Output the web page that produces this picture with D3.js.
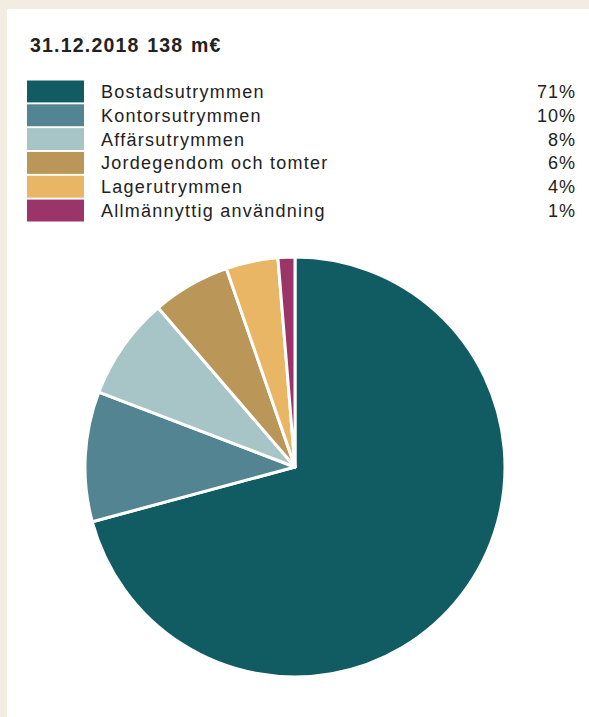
<!DOCTYPE html>
<html lang="sv">
<head>
  <meta charset="UTF-8">
  <title>Fastighetsinnehav</title>
  <script src="https://d3js.org/d3.v7.min.js"></script>
  <style>
    body { margin: 0; background: #f3ece0; }
    svg { display: block; }
    text { font-family: "Liberation Sans", Arial, sans-serif; fill: #222; }
  </style>
</head>
<body>
<script>
  const title = "31.12.2018 138 m€";
  const categories = ["Bostadsutrymmen", "Kontorsutrymmen", "Affärsutrymmen", "Jordegendom och tomter", "Lagerutrymmen", "Allmännyttig användning"];
  const values = [70.8, 10.0, 7.9, 6.0, 4.0, 1.3];
  const labels = ["71%", "10%", "8%", "6%", "4%", "1%"];
  const colors = ["#115c63", "#528492", "#a7c4c6", "#bb9659", "#e8b664", "#9b3469"];

  const W = 589, H = 717;
  const svg = d3.select("body").append("svg")
    .attr("width", W)
    .attr("height", H);

  // white panel on beige background
  svg.append("rect")
    .attr("x", 7).attr("y", 9)
    .attr("width", W - 7).attr("height", H - 9)
    .attr("fill", "#fff");

  svg.append("text")
    .attr("x", 30).attr("y", 52)
    .attr("font-size", 19.5)
    .attr("font-weight", "bold")
    .attr("letter-spacing", 1.2)
    .attr("word-spacing", 1)
    .text(title);

  const data = categories.map((c, i) => ({ name: c, value: values[i], label: labels[i], color: colors[i] }));

  // legend
  const rowY = d3.scaleBand().domain(categories).range([80.5, 80.5 + 23.5 * categories.length]).paddingInner(0.08);

  const legend = svg.append("g").selectAll("g")
    .data(data)
    .enter().append("g")
    .attr("transform", d => "translate(0," + rowY(d.name) + ")");

  legend.append("rect")
    .attr("x", 27)
    .attr("width", 57)
    .attr("height", rowY.bandwidth())
    .attr("fill", d => d.color);

  legend.append("text")
    .attr("x", 101)
    .attr("y", 17.5)
    .attr("font-size", 18)
    .attr("letter-spacing", 1.25)
    .text(d => d.name);

  legend.append("text")
    .attr("x", 576)
    .attr("y", 17.5)
    .attr("font-size", 18)
    .attr("letter-spacing", 1)
    .attr("text-anchor", "end")
    .text(d => d.label);

  // pie
  const pie = d3.pie().value(d => d.value).sort(null);
  const arc = d3.arc().innerRadius(0).outerRadius(210);

  svg.append("g")
    .attr("transform", "translate(295,467)")
    .selectAll("path")
    .data(pie(data))
    .enter().append("path")
    .attr("d", arc)
    .attr("fill", d => d.data.color)
    .attr("stroke", "#fff")
    .attr("stroke-width", 3)
    .attr("stroke-linejoin", "round");
</script>
</body>
</html>
